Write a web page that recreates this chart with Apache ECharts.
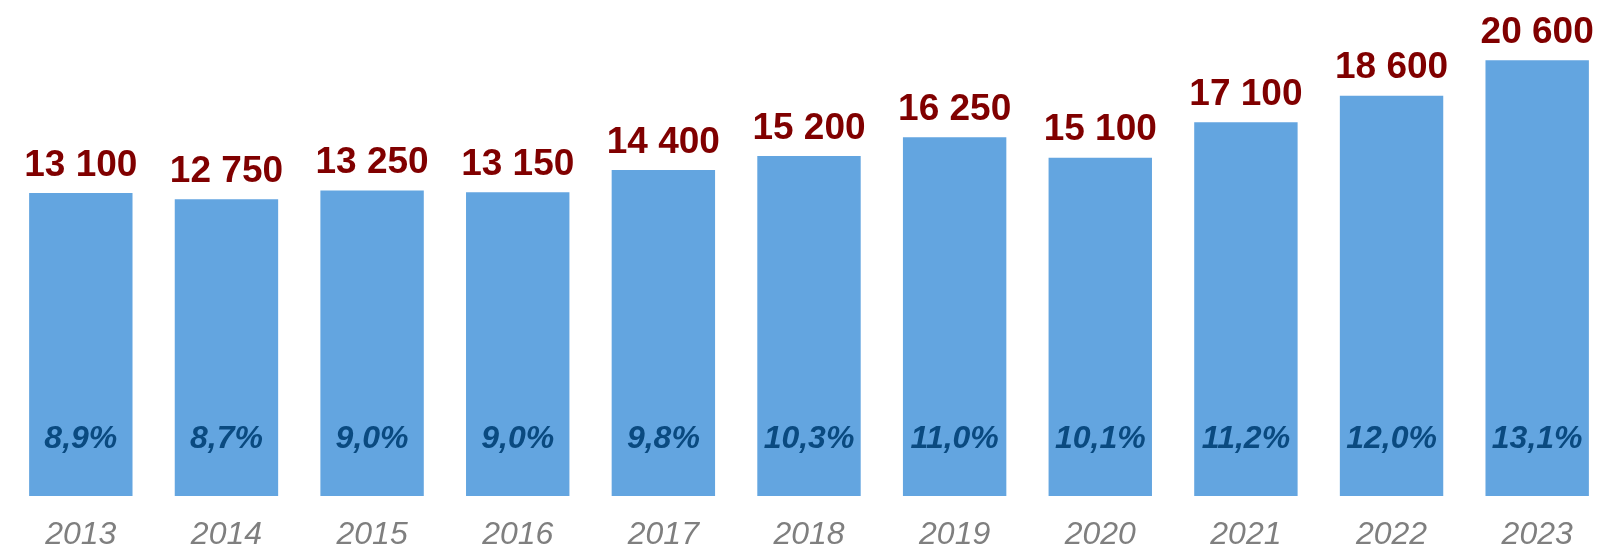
<!DOCTYPE html>
<html>
<head>
<meta charset="utf-8">
<script src="https://cdn.jsdelivr.net/npm/echarts@6/dist/echarts.min.js"></script>
<style>
  html, body { margin: 0; padding: 0; background: #fff; }
  #chartBox { width: 1611px; height: 551px; }
</style>
</head>
<body>
<div id="chartBox"></div>
<script>
var years = ['2013', '2014', '2015', '2016', '2017', '2018', '2019', '2020', '2021', '2022', '2023'];
var amounts = [13100, 12750, 13250, 13150, 14400, 15200, 16250, 15100, 17100, 18600, 20600];
var shares = ['8,9%', '8,7%', '9,0%', '9,0%', '9,8%', '10,3%', '11,0%', '10,1%', '11,2%', '12,0%', '13,1%'];

function fmtSpace(v) {
    return String(v).replace(/\B(?=(\d{3})+(?!\d))/g, ' ');
}

function bindBar() {
    var chart = echarts.init(document.getElementById('chartBox'));
    var option = {
        animation: false,
        textStyle: { fontFamily: 'Liberation Sans, Arial, sans-serif' },
        grid: { left: 8, right: 1, top: 0, bottom: 54 },
        xAxis: {
            type: 'category',
            data: years,
            axisLine: { show: false },
            axisTick: { show: false },
            axisLabel: {
                color: '#7f7f7f',
                fontSize: 32,
                fontStyle: 'italic',
                margin: 23
            }
        },
        yAxis: {
            type: 'value',
            min: -4000,
            max: 24000,
            startValue: -4000,
            show: false,
            splitLine: { show: false }
        },
        series: [
            {
                name: 'amount',
                type: 'bar',
                data: amounts,
                barCategoryGap: '29%',
                itemStyle: { color: '#63a5e0' },
                label: {
                    show: true,
                    position: 'top',
                    distance: 9,
                    color: '#800000',
                    fontSize: 37,
                    fontWeight: 'bold',
                    formatter: function (p) { return fmtSpace(p.value); }
                }
            },
            {
                name: 'share',
                type: 'bar',
                data: amounts,
                barGap: '-100%',
                barCategoryGap: '29%',
                itemStyle: { color: 'rgba(0,0,0,0)' },
                silent: true,
                label: {
                    show: true,
                    position: 'insideBottom',
                    distance: 41,
                    color: '#0a4a80',
                    fontSize: 32,
                    fontWeight: 'bold',
                    fontStyle: 'italic',
                    formatter: function (p) { return shares[p.dataIndex]; }
                }
            }
        ]
    };
    chart.setOption(option);
}
bindBar();
</script>
</body>
</html>
